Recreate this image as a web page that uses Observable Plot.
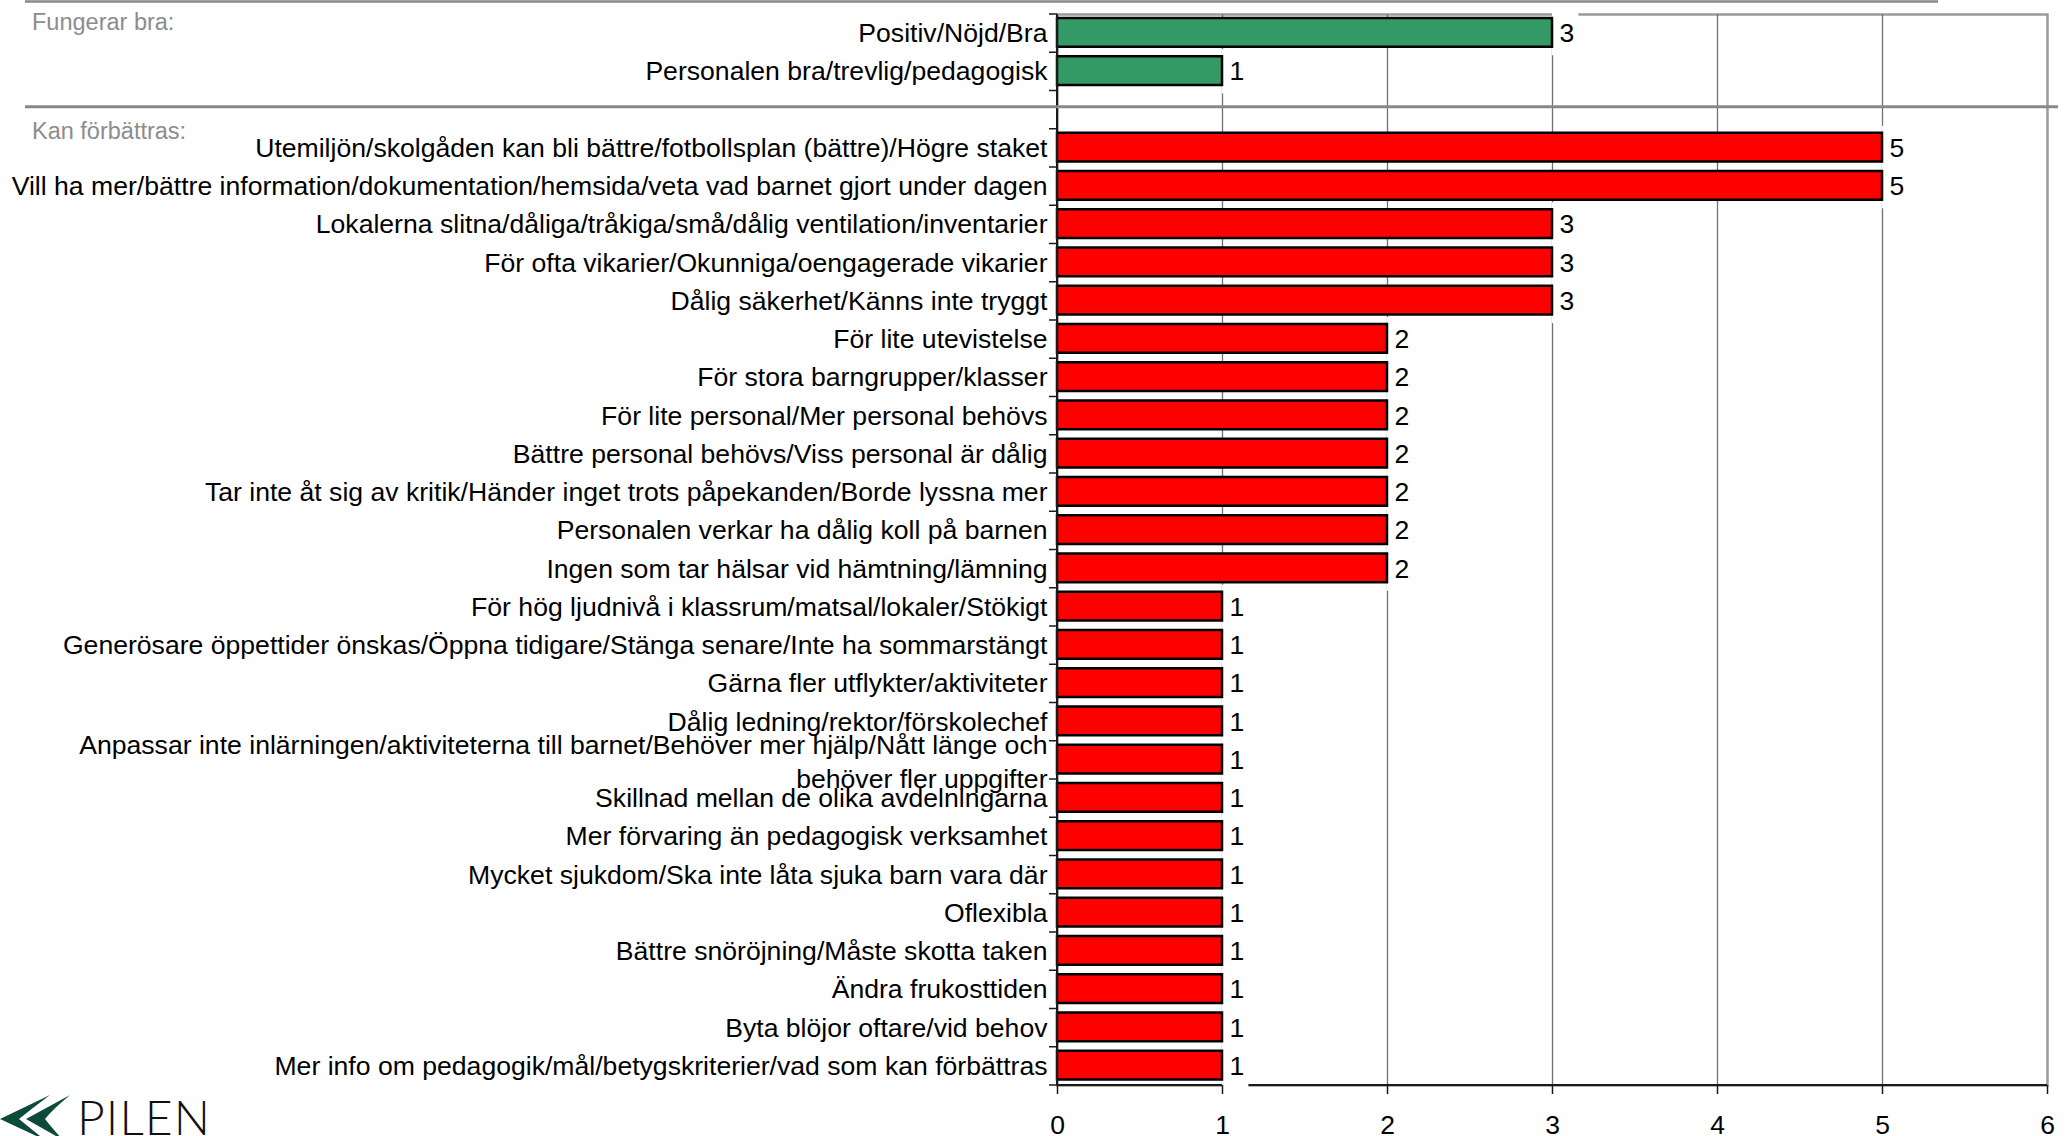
<!DOCTYPE html>
<html><head><meta charset="utf-8">
<script src="https://cdn.jsdelivr.net/npm/d3@7"></script>
<script src="https://cdn.jsdelivr.net/npm/@observablehq/plot@0.6"></script>
<style>
html,body{margin:0;padding:0;background:#fff;overflow:hidden;}
svg{display:block;}
</style>
</head><body>
<script>
// ---------- data ----------
const groupTitles = ["Fungerar bra:", "Kan förbättras:"];
const goodLabels = ["Positiv/Nöjd/Bra", "Personalen bra/trevlig/pedagogisk"];
const goodValues = [3, 1];
const improveLabels = [
  "Utemiljön/skolgåden kan bli bättre/fotbollsplan (bättre)/Högre staket",
  "Vill ha mer/bättre information/dokumentation/hemsida/veta vad barnet gjort under dagen",
  "Lokalerna slitna/dåliga/tråkiga/små/dålig ventilation/inventarier",
  "För ofta vikarier/Okunniga/oengagerade vikarier",
  "Dålig säkerhet/Känns inte tryggt",
  "För lite utevistelse",
  "För stora barngrupper/klasser",
  "För lite personal/Mer personal behövs",
  "Bättre personal behövs/Viss personal är dålig",
  "Tar inte åt sig av kritik/Händer inget trots påpekanden/Borde lyssna mer",
  "Personalen verkar ha dålig koll på barnen",
  "Ingen som tar hälsar vid hämtning/lämning",
  "För hög ljudnivå i klassrum/matsal/lokaler/Stökigt",
  "Generösare öppettider önskas/Öppna tidigare/Stänga senare/Inte ha sommarstängt",
  "Gärna fler utflykter/aktiviteter",
  "Dålig ledning/rektor/förskolechef",
  "Anpassar inte inlärningen/aktiviteterna till barnet/Behöver mer hjälp/Nått länge och\nbehöver fler uppgifter",
  "Skillnad mellan de olika avdelningarna",
  "Mer förvaring än pedagogisk verksamhet",
  "Mycket sjukdom/Ska inte låta sjuka barn vara där",
  "Oflexibla",
  "Bättre snöröjning/Måste skotta taken",
  "Ändra frukosttiden",
  "Byta blöjor oftare/vid behov",
  "Mer info om pedagogik/mål/betygskriterier/vad som kan förbättras"
];
const improveValues = [5, 5, 3, 3, 3, 2, 2, 2, 2, 2, 2, 2, 1, 1, 1, 1, 1, 1, 1, 1, 1, 1, 1, 1, 1];
const xTicks = [0, 1, 2, 3, 4, 5, 6];
const spacer = "\u2009"; // empty row between the two groups
const goodColor = "#339966";
const improveColor = "#ff0000";

// ---------- derived table ----------
const goodRows = goodLabels.map((label, i) => ({label, value: goodValues[i]}));
const improveRows = improveLabels.map((label, i) => ({label, value: improveValues[i]}));
const allRows = [...goodRows, ...improveRows];
const yDomain = [...goodLabels, spacer, ...improveLabels];
const isWrapped = d => d.label.includes("\n");

function bandOf(scales, dim) {
  const y = scales.y;
  return y.bandwidth ? y.bandwidth() : (dim.height - dim.marginTop - dim.marginBottom) / yDomain.length;
}

// bottom axis line (drawn under value-label boxes)
function bottomLine(index, scales, values, dim) {
  const g = d3.create("svg:g");
  const yb = dim.height - dim.marginBottom;
  g.append("line").attr("x1", dim.marginLeft).attr("x2", dim.width - dim.marginRight)
    .attr("y1", yb).attr("y2", yb).attr("stroke", "#1a1a1a").attr("stroke-width", 2);
  return g.node();
}

// y axis line, boundary ticks, group separators and titles, logo
function decorations(index, scales, values, dim) {
  const g = d3.create("svg:g").attr("text-anchor", "start");
  const bw = bandOf(scales, dim);
  const y0 = scales.y(yDomain[0]);
  const top = dim.marginTop, bottom = dim.height - dim.marginBottom, left = dim.marginLeft;
  g.append("line").attr("x1", left).attr("x2", left).attr("y1", top).attr("y2", bottom)
    .attr("stroke", "#1a1a1a").attr("stroke-width", 2);
  for (let i = 0; i <= yDomain.length; i++) {
    const yy = y0 + i * bw;
    g.append("line").attr("x1", left - 8).attr("x2", left).attr("y1", yy).attr("y2", yy)
      .attr("stroke", "#1a1a1a").attr("stroke-width", 1.5);
  }
  const sep1 = 1.5;
  const sep2 = scales.y(spacer) + bw / 2 - 3;
  g.append("line").attr("x1", 25).attr("x2", 1938).attr("y1", sep1).attr("y2", sep1)
    .attr("stroke", "#888").attr("stroke-width", 2.5);
  g.append("line").attr("x1", 25).attr("x2", 2058).attr("y1", sep2).attr("y2", sep2)
    .attr("stroke", "#888").attr("stroke-width", 3);
  [sep1 + 28.5, sep2 + 32].forEach((yy, i) => {
    g.append("text").attr("x", 32).attr("y", yy).attr("fill", "#8c8c8c")
      .attr("text-anchor", "start").attr("font-size", 23.5).text(groupTitles[i]);
  });
  // PILEN logo
  const logo = g.append("g").attr("fill", "#0d4a39");
  logo.append("path").attr("d", "M0,1119 L50,1095 Q30,1110 19,1119 Q30,1128 45,1140 Z");
  logo.append("path").attr("d", "M26,1119 L70,1095 Q52,1110 45,1119 Q52,1128 63,1140 Z");
  g.append("text").attr("x", 77).attr("y", 1135).attr("text-anchor", "start")
    .attr("font-family", "Lato, 'Open Sans', sans-serif")
    .attr("font-weight", 300).attr("font-size", 48).attr("fill", "#111")
    .attr("textLength", 133).attr("lengthAdjust", "spacing").text("PILEN");
  return g.node();
}

const chart = Plot.plot({
  width: 2069,
  height: 1136,
  marginTop: 14,
  marginRight: 22,
  marginBottom: 51,
  marginLeft: 1057,
  style: {fontFamily: "'Liberation Sans', Arial, sans-serif", fontSize: "26px", background: "white", color: "black", overflow: "visible"},
  x: {domain: [0, 6], axis: null, label: null},
  y: {domain: yDomain, padding: 0, round: false, axis: null},
  marks: [
    Plot.frame({stroke: "#9a9a9a", strokeWidth: 2.5}),
    Plot.ruleX(xTicks.slice(1, -1), {stroke: "#707070", strokeWidth: 1.3}),
    bottomLine,
    Plot.barX(allRows, {x1: "value", x2: d => d.value + 0.16, y: "label", fill: "white", insetTop: -3, insetBottom: -3}),
    Plot.barX(goodRows, {x: "value", y: "label", fill: goodColor, stroke: "black", strokeWidth: 2.5, insetTop: 4, insetBottom: 5.5}),
    Plot.barX(improveRows, {x: "value", y: "label", fill: improveColor, stroke: "black", strokeWidth: 2.5, insetTop: 4, insetBottom: 5.5}),
    decorations,
    Plot.axisX({ticks: xTicks, label: null, tickSize: 9, tickPadding: 21, fontSize: 26.5, stroke: "#1a1a1a", strokeWidth: 1.5, tickFormat: d => String(d)}),
    Plot.text(allRows.filter(d => !isWrapped(d)), {y: "label", text: "label", frameAnchor: "left", textAnchor: "end", dx: -10, fontSize: 26.6, fill: "black"}),
    Plot.text(allRows.filter(isWrapped), {y: "label", text: "label", frameAnchor: "left", textAnchor: "end", dx: -10, fontSize: 26.6, lineHeight: 1.28, fill: "black"}),
    Plot.text(allRows, {x: "value", y: "label", text: d => String(d.value), textAnchor: "start", dx: 7, fontSize: 26.5, fill: "black"})
  ]
});
document.body.appendChild(chart);
</script>
</body></html>
